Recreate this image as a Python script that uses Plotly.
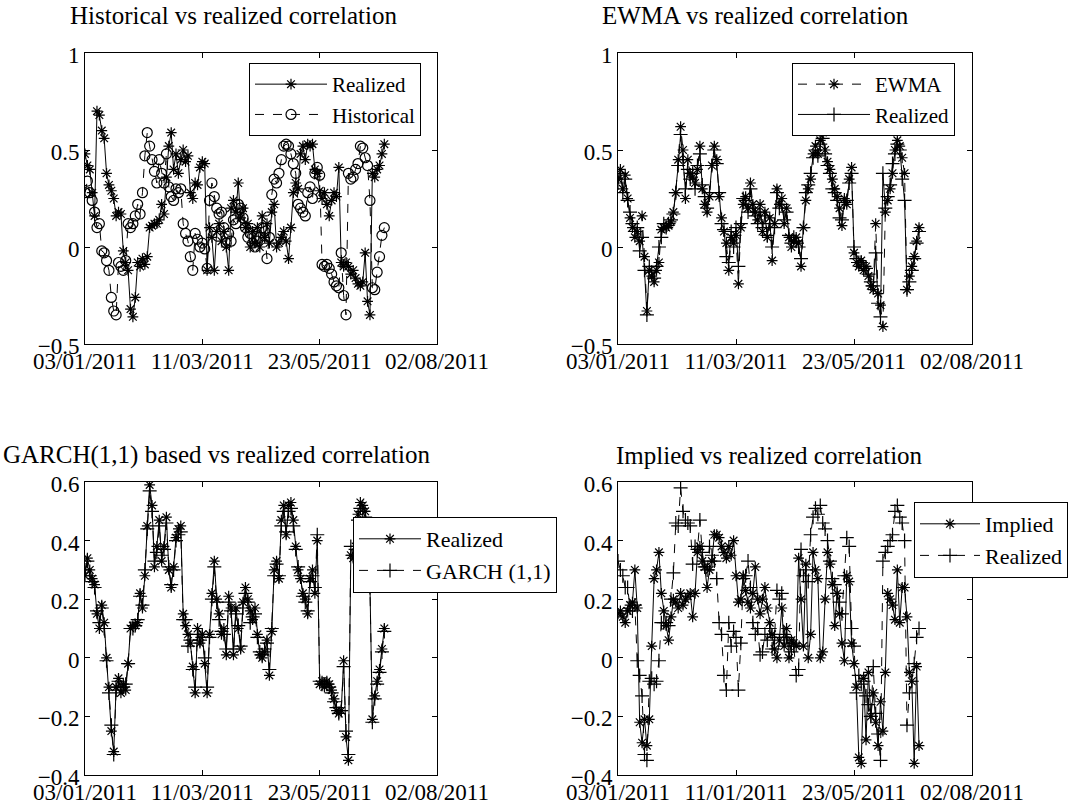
import plotly.graph_objects as go

# ---------------- data (trading-day index 0..125) ----------------
x_max = 147
tick_pos = [0, 49, 98, 147]
top_ticktext = ["03/01/2011", "11/03/2011", "23/05/2011", "02/08/2011"]
br_ticktext = ["03/01/2011", "11/01/2011", "23/05/2011", "02/08/2011"]

# Panel 1: Historical vs realized
realized_p1 = [
    0.48, 0.42, 0.40, 0.28, 0.16, 0.70, 0.68, 0.60, 0.56, 0.38,
    0.32, 0.29, 0.25, 0.16, 0.18, 0.17, -0.02, -0.08, -0.12, -0.32,
    -0.36, -0.26, -0.08, -0.10, -0.06, -0.09, -0.05, 0.10, 0.11, 0.12,
    0.12, 0.14, 0.22, 0.17, 0.36, 0.52, 0.59, 0.40, 0.48, 0.38,
    0.45, 0.50, 0.44, 0.47, 0.28, 0.25, 0.33, 0.32, 0.41, 0.44,
    0.43, -0.12, 0.10, 0.05, -0.12, 0.08, 0.12, 0.03, 0.08, 0.00,
    -0.12, 0.20, 0.24, 0.18, 0.33, 0.15, 0.20, 0.10, 0.12, 0.00,
    0.08, 0.02, 0.10, 0.00, 0.16, 0.05, 0.12, 0.02, 0.18, 0.22,
    0.00, 0.02, 0.05, 0.08, 0.03, -0.06, 0.10, 0.28, 0.33, 0.30,
    0.48, 0.52, 0.45, 0.53, 0.52, 0.53, 0.40, 0.38, 0.29, 0.25,
    0.28, 0.22, 0.16, 0.24, 0.28, 0.26, 0.41, -0.08, -0.10, -0.08,
    -0.10, -0.14, -0.12, -0.16, -0.19, -0.20, -0.18, -0.03, -0.28, -0.35,
    0.38, 0.36, 0.40, 0.42, 0.48, 0.53]
historical_p1 = [
    0.28, 0.34, 0.28, 0.24, 0.18, 0.10, 0.12, -0.02, -0.03, -0.07,
    -0.12, -0.26, -0.33, -0.35, -0.08, -0.10, -0.12, -0.07, 0.12, 0.10,
    0.12, 0.16, 0.22, 0.17, 0.28, 0.47, 0.59, 0.52, 0.45, 0.39,
    0.33, 0.45, 0.38, 0.33, 0.48, 0.31, 0.26, 0.24, 0.30, 0.28,
    0.30, 0.12, 0.07, 0.03, -0.05, -0.12, 0.07, 0.04, 0.00, 0.02,
    -0.01, -0.11, 0.24, 0.33, 0.26, 0.20, 0.17, 0.18, 0.10, 0.02,
    0.07, 0.03, 0.14, 0.12, 0.22, 0.20, 0.15, 0.10, 0.05, 0.07,
    0.02, 0.00, 0.03, 0.05, 0.10, 0.08, -0.06, 0.05, 0.27, 0.35,
    0.33, 0.38, 0.45, 0.52, 0.53, 0.52, 0.48, 0.43, 0.38, 0.22,
    0.20, 0.18, 0.16, 0.28, 0.31, 0.25, 0.38, 0.41, 0.37, -0.09,
    -0.10, -0.09, -0.11, -0.14, -0.18, -0.20, -0.21, -0.03, -0.25, -0.35,
    0.38, 0.35, 0.36, 0.40, 0.43, 0.52, 0.51, 0.46, 0.42, 0.24,
    -0.21, -0.22, -0.13, -0.05, 0.06, 0.10]

# Panel 2: EWMA vs realized
ewma_p2 = [
    0.35, 0.40, 0.30, 0.37, 0.25, 0.15, 0.10, 0.05, 0.08, 0.03,
    0.16, -0.05, -0.33, -0.12, -0.15, -0.18, -0.12, -0.08, 0.09, 0.10,
    0.10, 0.11, 0.13, 0.18, 0.28, 0.45, 0.62, 0.50, 0.25, 0.45,
    0.38, 0.36, 0.33, 0.40, 0.52, 0.30, 0.22, 0.18, 0.26, 0.42,
    0.52, 0.45, 0.26, 0.15, 0.08, 0.02, -0.12, 0.05, 0.02, 0.06,
    -0.19, 0.10, 0.22, 0.26, 0.20, 0.33, 0.22, 0.18, 0.14, 0.22,
    0.08, 0.18, 0.05, 0.15, -0.07, 0.12, 0.30, 0.22, 0.25, 0.12,
    0.20, 0.05, 0.00, 0.03, 0.05, 0.02, -0.10, 0.10, 0.24, 0.30,
    0.35, 0.48, 0.52, 0.48, 0.55, 0.59, 0.50, 0.44, 0.40, 0.35,
    0.30, 0.26, 0.20, 0.11, 0.25, 0.22, 0.35, 0.41, -0.03, -0.08,
    -0.10, -0.07, -0.12, -0.10, -0.15, -0.20, -0.22, 0.12, -0.24, -0.30,
    -0.41, 0.18, 0.24, 0.30, 0.38, 0.50, 0.55, 0.52, 0.46, 0.38,
    -0.22, -0.15, -0.10, -0.05, 0.03, 0.10]
realized_p2 = [
    0.33, 0.38, 0.28, 0.35, 0.24, 0.18, 0.12, 0.08, 0.10, -0.02,
    0.05, -0.12, -0.35, -0.10, -0.13, -0.16, -0.10, 0.00, 0.05, 0.12,
    0.10, 0.12, 0.14, 0.17, 0.28, 0.42, 0.58, 0.45, 0.30, 0.40,
    0.35, 0.38, 0.30, 0.42, 0.48, 0.32, 0.26, 0.20, 0.28, 0.42,
    0.50, 0.43, 0.28, 0.12, 0.09, -0.05, -0.08, 0.08, 0.00, 0.10,
    -0.10, 0.12, 0.25, 0.24, 0.18, 0.30, 0.20, 0.16, 0.12, 0.18,
    0.10, 0.16, 0.06, 0.12, 0.00, 0.10, 0.28, 0.20, 0.22, 0.14,
    0.18, 0.06, 0.02, 0.05, 0.03, 0.00, -0.06, 0.10, 0.28, 0.32,
    0.38, 0.46, 0.50, 0.47, 0.53, 0.56, 0.48, 0.42, 0.38, 0.30,
    0.28, 0.24, 0.15, 0.14, 0.23, 0.24, 0.33, 0.38, 0.00, -0.06,
    -0.08, -0.08, -0.10, -0.11, -0.14, -0.18, -0.20, -0.03, -0.29, -0.36,
    0.38, 0.20, 0.26, 0.32, 0.43, 0.48, 0.53, 0.50, 0.35, 0.24,
    -0.22, -0.18, -0.12, -0.06, 0.02, 0.08]

# Panel 3: GARCH(1,1) vs realized
realized_p3 = [
    0.28, 0.34, 0.30, 0.27, 0.25, 0.15, 0.10, 0.18, 0.12, 0.00,
    -0.10, -0.25, -0.32, -0.10, -0.07, -0.12, -0.09, -0.11, -0.02, 0.10,
    0.11, 0.11, 0.12, 0.22, 0.17, 0.28, 0.45, 0.59, 0.52, 0.31,
    0.38, 0.47, 0.33, 0.38, 0.48, 0.30, 0.24, 0.31, 0.41, 0.44,
    0.45, 0.15, 0.11, 0.08, 0.05, -0.03, -0.12, 0.10, 0.05, 0.08,
    -0.02, -0.12, 0.08, 0.22, 0.33, 0.20, 0.15, 0.08, 0.10, 0.01,
    0.21, 0.17, 0.01, 0.17, 0.10, 0.03, 0.19, 0.24, 0.20, 0.16,
    0.13, 0.17, 0.08, 0.01, 0.00, 0.02, 0.06, -0.06, 0.09, 0.30,
    0.33, 0.27, 0.47, 0.52, 0.42, 0.52, 0.53, 0.47, 0.38, 0.30,
    0.27, 0.22, 0.20, 0.15, 0.27, 0.30, 0.22, 0.40, -0.09, -0.08,
    -0.10, -0.08, -0.09, -0.11, -0.14, -0.18, -0.19, -0.18, -0.01, -0.27,
    -0.35, 0.35, 0.34, 0.38, 0.49, 0.53, 0.52, 0.50, 0.45, 0.25,
    -0.21, -0.13, -0.08, -0.04, 0.03, 0.10]
garch_p3 = [
    0.30, 0.33, 0.28, 0.26, 0.24, 0.16, 0.12, 0.17, 0.10, -0.01,
    -0.12, -0.23, -0.33, -0.11, -0.08, -0.10, -0.10, -0.09, -0.02, 0.10,
    0.10, 0.11, 0.13, 0.21, 0.18, 0.30, 0.44, 0.57, 0.50, 0.33,
    0.36, 0.45, 0.35, 0.37, 0.46, 0.31, 0.25, 0.30, 0.40, 0.42,
    0.43, 0.13, 0.13, 0.04, 0.06, -0.04, -0.10, 0.08, 0.06, 0.07,
    0.00, -0.10, 0.07, 0.20, 0.31, 0.19, 0.13, 0.09, 0.08, 0.03,
    0.19, 0.16, 0.03, 0.15, 0.11, 0.04, 0.17, 0.22, 0.19, 0.12,
    0.14, 0.15, 0.07, 0.02, 0.01, 0.03, 0.05, -0.04, 0.10, 0.28,
    0.32, 0.28, 0.45, 0.50, 0.43, 0.50, 0.51, 0.45, 0.37, 0.31,
    0.28, 0.21, 0.19, 0.16, 0.26, 0.28, 0.24, 0.42, -0.08, -0.09,
    -0.09, -0.09, -0.10, -0.12, -0.15, -0.17, -0.19, -0.18, -0.03, -0.25,
    -0.33, 0.38, 0.35, 0.37, 0.47, 0.51, 0.50, 0.48, 0.44, 0.24,
    -0.22, -0.14, -0.09, -0.05, 0.02, 0.09]

# Panel 4: Implied vs realized
implied_p4 = [
    0.15, 0.16, 0.14, 0.12, 0.16, 0.18, 0.19, 0.30, 0.17, -0.22,
    -0.29, -0.21, -0.30, -0.21, 0.04, 0.27, 0.30, 0.36, 0.22, 0.16,
    0.11, 0.06, 0.14, 0.20, 0.19, 0.17, 0.22, 0.18, 0.20, 0.21,
    0.22, 0.14, 0.22, 0.36, 0.38, 0.33, 0.31, 0.24, 0.30, 0.33,
    0.42, 0.42, 0.41, 0.38, 0.36, 0.34, 0.38, 0.35, 0.40, 0.28,
    0.19, 0.20, 0.28, 0.23, 0.19, 0.17, 0.22, 0.31, 0.20, 0.15,
    0.20, 0.24, 0.17, 0.12, 0.08, 0.03, 0.00, 0.06, 0.17, 0.04,
    0.10, 0.00, 0.06, 0.05, 0.04, 0.34, 0.20, 0.04, 0.32, 0.00,
    0.08, 0.36, 0.30, 0.27, 0.00, 0.02, 0.20, 0.36, 0.32, 0.25,
    0.11, 0.22, 0.15, 0.05, -0.01, 0.28, 0.26, 0.05, -0.02, -0.10,
    -0.34, -0.36, -0.07, -0.28, -0.05, -0.20, -0.12, -0.22, -0.30, -0.15,
    -0.25, -0.05, 0.22, 0.20, 0.18, 0.13, 0.30, 0.12, 0.24, 0.24,
    0.14, -0.05, -0.08, -0.36, -0.03, -0.30]
realized_p4 = [
    0.33, 0.30, 0.28, 0.24, 0.24, 0.17, 0.16, 0.18, -0.01, -0.06,
    -0.13, -0.33, -0.35, -0.08, -0.07, -0.09, -0.08, -0.01, 0.12, 0.12,
    0.12, 0.11, 0.20, 0.29, 0.46, 0.45, 0.58, 0.50, 0.47, 0.46,
    0.45, 0.32, 0.38, 0.37, 0.47, 0.36, 0.31, 0.30, 0.38, 0.35,
    0.33, 0.27, 0.12, 0.08, -0.06, -0.11, 0.12, 0.04, 0.09, 0.07,
    -0.11, 0.05, 0.27, 0.28, 0.33, 0.24, 0.12, 0.08, 0.10, 0.01,
    0.02, 0.08, 0.06, 0.10, 0.03, 0.07, 0.23, 0.20, 0.22, 0.08,
    0.07, 0.05, 0.02, 0.04, -0.06, -0.04, 0.37, 0.28, 0.30, 0.26,
    0.42, 0.48, 0.51, 0.49, 0.52, 0.46, 0.44, 0.40, 0.33, 0.27,
    0.25, 0.22, 0.19, 0.15, 0.28, 0.41, 0.38, 0.10, 0.04, -0.12,
    -0.06, -0.09, -0.08, -0.13, -0.16, -0.20, -0.03, -0.19, -0.26, -0.35,
    0.33, 0.36, 0.38, 0.40, 0.42, 0.50, 0.52, 0.48, 0.46, 0.40,
    -0.23, -0.12, -0.08, -0.02, 0.07, 0.10]

# ---------------- figure ----------------
W, H = 1079, 806
FONT = "Liberation Serif"
days = list(range(len(realized_p1)))

def px_x(p):
    return p / W

def px_y(p):
    return 1 - p / H

fig = go.Figure()

def add(y, name, xa, ya, leg, dash, symbol, size):
    fig.add_trace(go.Scatter(
        x=days, y=y, name=name, xaxis=xa, yaxis=ya, legend=leg,
        mode="lines+markers",
        line=dict(color="black", width=1, dash=dash),
        marker=dict(symbol=symbol, size=size, color="black",
                    line=dict(color="black", width=1.2)),
    ))

add(realized_p1, "Realized", "x", "y", "legend", "solid", "asterisk-open", 9)
add(historical_p1, "Historical", "x", "y", "legend", "dash", "circle-open", 10)
add(ewma_p2, "EWMA", "x2", "y2", "legend2", "dash", "asterisk-open", 9)
add(realized_p2, "Realized", "x2", "y2", "legend2", "solid", "cross-thin-open", 10)
add(realized_p3, "Realized", "x3", "y3", "legend3", "solid", "asterisk-open", 9)
add(garch_p3, "GARCH (1,1)", "x3", "y3", "legend3", "dash", "cross-thin-open", 10)
add(implied_p4, "Implied", "x4", "y4", "legend4", "solid", "asterisk-open", 9)
add(realized_p4, "Realized", "x4", "y4", "legend4", "dash", "cross-thin-open", 10)

tickfont = dict(family=FONT, size=23, color="black")

def xaxis(domain, anchor, ticktext):
    return dict(domain=domain, anchor=anchor, range=[0, x_max],
                tickmode="array", tickvals=tick_pos, ticktext=ticktext,
                ticks="inside", ticklen=5, tickcolor="black",
                showline=True, linecolor="black", linewidth=1,
                mirror="allticks", showgrid=False, zeroline=False,
                automargin=False, ticklabelstandoff=-4,
                tickfont=tickfont)

def yaxis(domain, anchor, rng, vals):
    txt = [("\u2212" + f"{abs(v):g}") if v < 0 else f"{v:g}" for v in vals]
    return dict(domain=domain, anchor=anchor, range=rng,
                tickmode="array", tickvals=vals, ticktext=txt,
                ticks="inside", ticklen=5, tickcolor="black",
                showline=True, linecolor="black", linewidth=1,
                mirror="allticks", showgrid=False, zeroline=False,
                automargin=False, ticklabelshift=2,
                tickfont=tickfont)

xl = [px_x(85), px_x(437)]
xr = [px_x(618), px_x(972)]
yt = [px_y(344), px_y(53)]
yb = [px_y(775), px_y(482)]
top_vals = [-0.5, 0, 0.5, 1]
bot_vals = [-0.4, -0.2, 0, 0.2, 0.4, 0.6]

def legend(left, top, size, itemwidth):
    return dict(x=px_x(left), y=px_y(top), xanchor="left", yanchor="top",
                bgcolor="white", bordercolor="black", borderwidth=1,
                font=dict(family=FONT, size=size, color="black"),
                itemwidth=itemwidth, tracegroupgap=0)

fig.update_layout(
    template="none",
    width=W, height=H,
    margin=dict(l=0, r=0, t=0, b=0, pad=0, autoexpand=False),
    paper_bgcolor="white", plot_bgcolor="white",
    font=dict(family=FONT, color="black"),
    xaxis=xaxis(xl, "y", top_ticktext),
    yaxis=yaxis(yt, "x", [-0.5, 1], top_vals),
    xaxis2=xaxis(xr, "y2", top_ticktext),
    yaxis2=yaxis(yt, "x2", [-0.5, 1], top_vals),
    xaxis3=xaxis(xl, "y3", top_ticktext),
    yaxis3=yaxis(yb, "x3", [-0.4, 0.6], bot_vals),
    xaxis4=xaxis(xr, "y4", br_ticktext),
    yaxis4=yaxis(yb, "x4", [-0.4, 0.6], bot_vals),
    legend=legend(249, 63, 21, 72),
    legend2=legend(792, 63, 21, 72),
    legend3=legend(353, 517, 22, 62),
    legend4=legend(914, 502, 22, 60),
    showlegend=True,
)

titles = [
    ("Historical vs realized correlation", 68, 15),
    ("EWMA vs realized correlation", 600, 15),
    ("GARCH(1,1) based vs realized correlation", 1, 455),
    ("Implied vs realized correlation", 614, 455),
]
for text, left, cy in titles:
    fig.add_annotation(text=text, x=px_x(left), y=px_y(cy), xref="paper", yref="paper",
                       xanchor="left", yanchor="middle", showarrow=False,
                       font=dict(family=FONT, size=25, color="black"))

fig.write_html("out.html")
